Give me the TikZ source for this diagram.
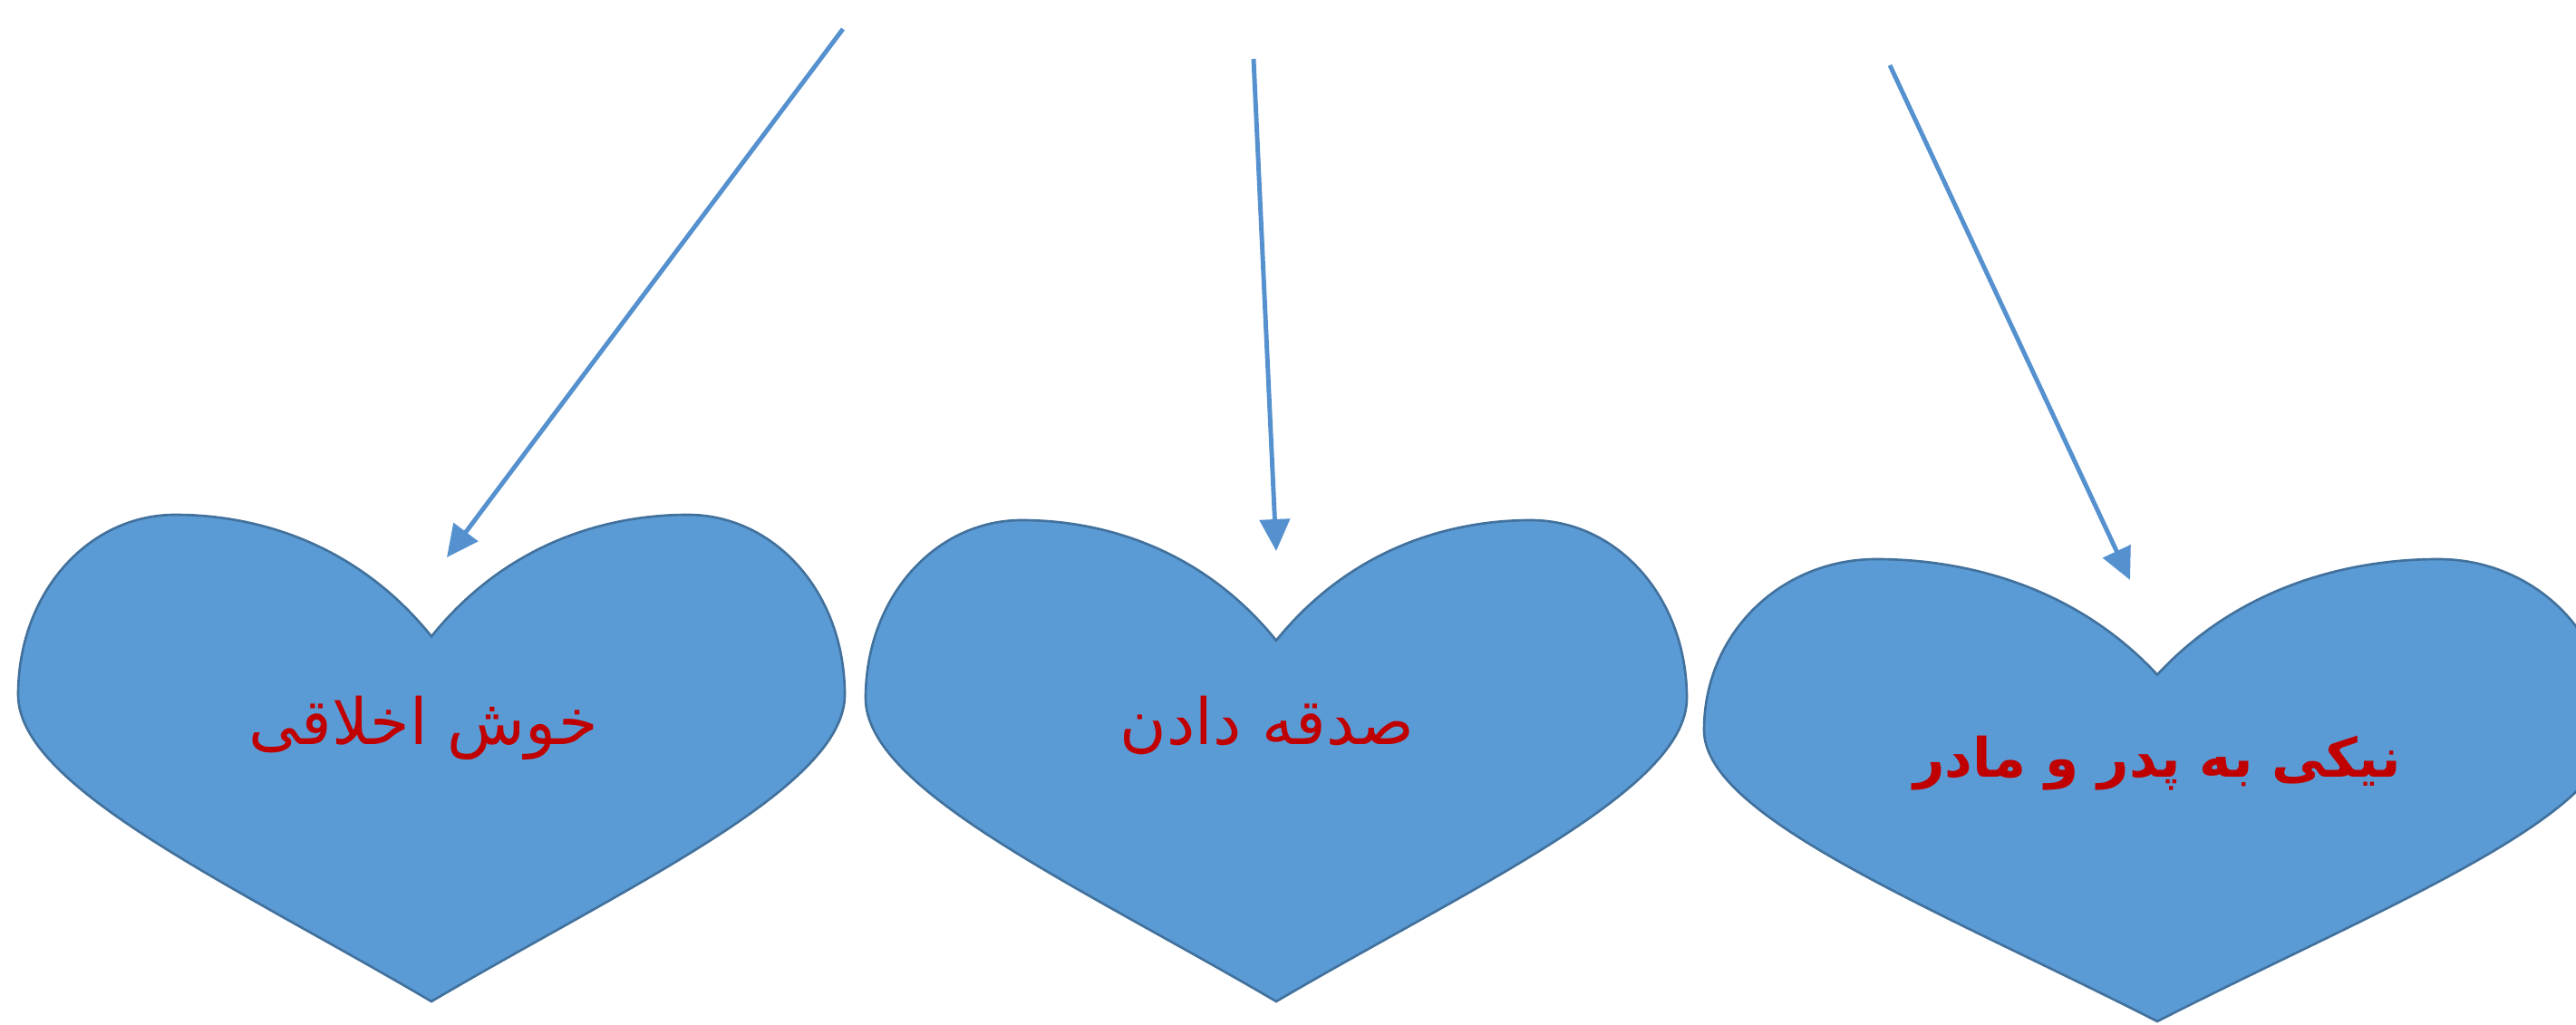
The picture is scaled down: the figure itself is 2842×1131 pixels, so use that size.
\documentclass[tikz,border=0pt]{standalone}
\usepackage{fontspec}
\usetikzlibrary{arrows.meta}
\TeXXeTstate=1
\newfontfamily\arabicfont[Script=Arabic]{DejaVu Sans}
\definecolor{heartfill}{HTML}{5B9BD5}
\definecolor{heartline}{HTML}{41719C}
\definecolor{arrowcol}{HTML}{5590CF}
\definecolor{txtred}{HTML}{C00000}
\tikzset{
  heartshape/.style={fill=heartfill, draw=heartline, line width=0.75pt},
  pointer/.style={draw=arrowcol, line width=1.4pt, -{Triangle[length=0.35cm, width=0.33cm]}},
  lbl/.style={text=txtred, font=\fontsize{20}{24}\selectfont\arabicfont, inner sep=0pt},
  lblbold/.style={text=txtred, font=\fontsize{17}{21}\selectfont\arabicfont\bfseries, inner sep=0pt}
}
% #1 centre x, #2 top y, #3 half width, #4 height (pixel units)
\newcommand{\drawheart}[4]{%
  \begin{scope}[shift={(#1,#2)}, xscale=#3, yscale=#4]
    \draw[heartshape] (0,0.25) .. controls (0.18,0.06) and (0.42,0) .. (0.62,0)
      .. controls (0.83,0) and (1,0.16) .. (1,0.37)
      .. controls (1,0.56) and (0.48,0.76) .. (0,1)
      .. controls (-0.48,0.76) and (-1,0.56) .. (-1,0.37)
      .. controls (-1,0.16) and (-0.83,0) .. (-0.62,0)
      .. controls (-0.42,0) and (-0.18,0.06) .. (0,0.25) -- cycle;
  \end{scope}}
\begin{document}
\begin{tikzpicture}[x=0.01cm, y=-0.01cm]
\useasboundingbox (0,0) rectangle (2842,1131);
\clip (0,0) rectangle (2842,1131);
\fill[white] (0,0) rectangle (2842,1131);
% hearts
\drawheart{476}{568}{456}{537}
\drawheart{1408}{574}{453}{531}
\drawheart{2380}{617}{500}{510}
% labels
\node[lbl] (t1) at (467,803) {\beginR خوش اخلاقی\endR};
\node[lbl] (t2) at (1398,800) {\beginR صدقه دادن\endR};
\node[lblbold] (t3) at (2380,842) {\beginR نیکی به پدر و مادر\endR};
% arrow endpoints
\coordinate (s1) at (930,32);  \coordinate (e1) at (493,615);
\coordinate (s2) at (1383,65); \coordinate (e2) at (1408,608);
\coordinate (s3) at (2085,72); \coordinate (e3) at (2350,640);
\draw[pointer] (s1) -- (e1);
\draw[pointer] (s2) -- (e2);
\draw[pointer] (s3) -- (e3);
\end{tikzpicture}
\end{document}
